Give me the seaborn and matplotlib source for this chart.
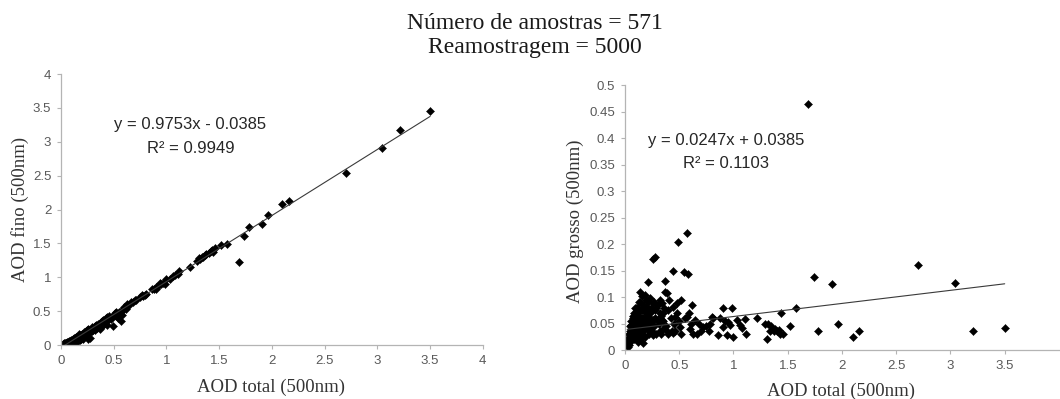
import matplotlib
matplotlib.use("Agg")
import matplotlib.pyplot as plt
from matplotlib.ticker import MultipleLocator, FixedLocator, FuncFormatter
import seaborn as sns
import pandas as pd
import numpy as np

# AOD at 500 nm for each sample: total, coarse mode and fine mode
aod_total = [
    1.69, 0.568, 0.49, 0.276, 0.255, 0.44, 0.54, 0.58, 0.21, 0.37,
    1.74, 1.91, 2.70, 3.04, 3.50, 3.21, 2.10, 2.16, 1.965, 1.78,
    1.575, 1.52, 1.44, 1.43, 1.40, 1.37, 1.34, 1.31, 1.29, 1.32,
    1.22, 1.11, 1.06, 1.00, 0.985, 0.905, 1.03, 0.97, 0.94, 0.86,
    0.905, 0.80, 0.81, 0.78, 0.77, 0.715, 0.66, 0.63, 0.62, 0.61,
    0.645, 0.57, 0.59, 0.52, 0.51, 0.52, 0.475, 0.445, 0.41, 0.46,
    0.43, 0.46, 0.385, 0.37, 0.385, 0.355, 0.34, 0.32, 0.34, 0.29,
    0.26, 0.23, 0.18, 0.14, 0.155, 0.20, 0.23, 0.26, 0.23, 0.29,
    0.17, 0.03, 0.02, 1.35, 1.38, 1.42, 1.46, 1.08, 1.12, 0.95,
    0.88, 0.92, 0.75, 0.68, 0.70, 0.55, 0.60, 0.50, 0.48, 0.45,
    0.42, 0.40, 0.38, 0.36, 0.33, 0.31, 0.30, 0.28, 0.27, 0.25,
    0.24, 0.22, 0.21, 0.20, 0.19, 0.18, 0.17, 0.16, 0.16, 0.15,
    0.14, 0.13, 0.13, 0.12, 0.12, 0.11, 0.11, 0.10, 0.10, 0.09,
    0.09, 0.08, 0.08, 0.07, 0.07, 0.06, 0.06, 0.05, 0.05, 0.04,
    0.04, 0.035, 0.15, 0.14, 0.12, 0.18, 0.22, 0.26, 0.33, 0.35,
    0.40, 0.44, 0.19, 0.24, 0.27, 0.13, 0.10, 0.09, 0.075, 0.06,
    0.03, 0.045, 0.05, 0.06, 0.07, 0.07, 0.08, 0.08, 0.08, 0.09,
    0.09, 0.10, 0.10, 0.11, 0.11, 0.11, 0.12, 0.12, 0.13, 0.13,
    0.14, 0.14, 0.15, 0.15, 0.16, 0.16, 0.17, 0.17, 0.18, 0.19,
    0.19, 0.20, 0.21, 0.22, 0.23, 0.25, 0.25, 0.28, 0.30, 0.32,
    0.32, 0.35, 0.035, 0.04, 0.025, 0.05, 0.06,
]
aod_coarse = [
    0.465, 0.220, 0.203, 0.176, 0.172, 0.149, 0.147, 0.144, 0.128, 0.130,
    0.137, 0.125, 0.160, 0.127, 0.042, 0.035, 0.024, 0.035, 0.049, 0.035,
    0.079, 0.046, 0.069, 0.030, 0.035, 0.035, 0.035, 0.020, 0.050, 0.050,
    0.061, 0.059, 0.048, 0.025, 0.080, 0.080, 0.057, 0.047, 0.028, 0.028,
    0.044, 0.063, 0.060, 0.050, 0.035, 0.044, 0.031, 0.031, 0.085, 0.050,
    0.057, 0.063, 0.069, 0.094, 0.044, 0.030, 0.088, 0.081, 0.094, 0.063,
    0.035, 0.035, 0.035, 0.110, 0.107, 0.069, 0.057, 0.094, 0.088, 0.079,
    0.088, 0.098, 0.104, 0.110, 0.101, 0.082, 0.069, 0.057, 0.044, 0.031,
    0.013, 0.006, 0.009, 0.045, 0.040, 0.038, 0.030, 0.042, 0.030, 0.052,
    0.060, 0.055, 0.045, 0.050, 0.035, 0.060, 0.040, 0.055, 0.070, 0.050,
    0.060, 0.075, 0.045, 0.080, 0.065, 0.050, 0.085, 0.060, 0.045, 0.075,
    0.035, 0.055, 0.090, 0.040, 0.070, 0.050, 0.085, 0.060, 0.030, 0.075,
    0.045, 0.065, 0.025, 0.080, 0.050, 0.035, 0.065, 0.055, 0.025, 0.045,
    0.070, 0.035, 0.060, 0.050, 0.025, 0.040, 0.020, 0.030, 0.015, 0.020,
    0.010, 0.025, 0.040, 0.020, 0.015, 0.025, 0.030, 0.028, 0.030, 0.040,
    0.030, 0.032, 0.095, 0.080, 0.090, 0.090, 0.080, 0.058, 0.065, 0.055,
    0.020, 0.035, 0.045, 0.035, 0.060, 0.040, 0.070, 0.050, 0.020, 0.030,
    0.080, 0.070, 0.040, 0.050, 0.080, 0.020, 0.065, 0.035, 0.045, 0.075,
    0.060, 0.090, 0.055, 0.030, 0.045, 0.075, 0.060, 0.035, 0.075, 0.045,
    0.060, 0.065, 0.050, 0.075, 0.060, 0.050, 0.035, 0.075, 0.055, 0.035,
    0.070, 0.055, 0.030, 0.030, 0.015, 0.025, 0.048,
]
aod_fine = [
    1.225, 0.348, 0.287, 0.100, 0.083, 0.291, 0.393, 0.436, 0.082, 0.240,
    1.603, 1.785, 2.540, 2.913, 3.458, 3.175, 2.076, 2.125, 1.916, 1.745,
    1.496, 1.474, 1.371, 1.400, 1.365, 1.335, 1.305, 1.290, 1.240, 1.270,
    1.159, 1.051, 1.012, 0.975, 0.905, 0.825, 0.973, 0.923, 0.912, 0.832,
    0.861, 0.737, 0.750, 0.730, 0.735, 0.671, 0.629, 0.599, 0.535, 0.560,
    0.588, 0.507, 0.521, 0.426, 0.466, 0.490, 0.387, 0.364, 0.316, 0.397,
    0.395, 0.425, 0.350, 0.260, 0.278, 0.286, 0.283, 0.226, 0.252, 0.211,
    0.172, 0.132, 0.076, 0.030, 0.054, 0.118, 0.161, 0.203, 0.186, 0.259,
    0.157, 0.024, 0.011, 1.305, 1.340, 1.382, 1.430, 1.038, 1.090, 0.898,
    0.820, 0.865, 0.705, 0.630, 0.665, 0.490, 0.560, 0.445, 0.410, 0.400,
    0.360, 0.325, 0.335, 0.280, 0.265, 0.260, 0.215, 0.220, 0.225, 0.175,
    0.205, 0.165, 0.120, 0.160, 0.120, 0.130, 0.085, 0.100, 0.130, 0.075,
    0.095, 0.065, 0.105, 0.040, 0.070, 0.075, 0.045, 0.045, 0.075, 0.045,
    0.020, 0.045, 0.020, 0.020, 0.045, 0.020, 0.040, 0.020, 0.035, 0.020,
    0.030, 0.010, 0.110, 0.120, 0.105, 0.155, 0.190, 0.232, 0.300, 0.310,
    0.370, 0.408, 0.095, 0.160, 0.180, 0.040, 0.020, 0.032, 0.010, 0.005,
    0.010, 0.010, 0.005, 0.025, 0.010, 0.030, 0.010, 0.030, 0.060, 0.060,
    0.010, 0.030, 0.060, 0.060, 0.030, 0.090, 0.055, 0.085, 0.085, 0.055,
    0.080, 0.050, 0.095, 0.120, 0.115, 0.085, 0.110, 0.135, 0.105, 0.145,
    0.130, 0.135, 0.160, 0.145, 0.170, 0.200, 0.215, 0.205, 0.245, 0.285,
    0.250, 0.295, 0.005, 0.010, 0.010, 0.025, 0.012,
]

# Linear trend lines (slope, intercept, R²)
fine_fit = (0.9753, -0.0385, 0.9949)
coarse_fit = (0.0247, 0.0385, 0.1103)

n_samples = 571
n_resamples = 5000

df = pd.DataFrame({"total": aod_total, "coarse": aod_coarse, "fine": aod_fine})

sns.set_theme(style="white")
plt.rcParams["font.family"] = ["Liberation Sans", "DejaVu Sans"]

fig = plt.figure(figsize=(10.6, 3.99), dpi=100)
ax1 = fig.add_axes([0.0575, 0.1353, 0.398, 0.679])
ax2 = fig.add_axes([0.5896, 0.1228, 0.4094, 0.664])

spine_c = "#b4b4b4"
tick_c = "#595959"
serif = ["Liberation Serif", "DejaVu Serif"]


def style_axes(ax, xmax, ymax, ystep, xticks):
    ax.set_xlim(0, xmax)
    ax.set_ylim(0, ymax)
    ax.xaxis.set_major_locator(FixedLocator(xticks))
    ax.yaxis.set_major_locator(MultipleLocator(ystep))
    fmt = FuncFormatter(lambda v, p: f"{v:g}")
    ax.xaxis.set_major_formatter(fmt)
    ax.yaxis.set_major_formatter(fmt)
    for s in ("top", "right"):
        ax.spines[s].set_visible(False)
    for s in ("left", "bottom"):
        ax.spines[s].set_color(spine_c)
        ax.spines[s].set_linewidth(0.9)
    ax.tick_params(axis="both", which="major", direction="out", length=3,
                   width=0.8, color=spine_c, labelcolor=tick_c, labelsize=9.5,
                   pad=4, bottom=True, left=True)
    ax.set_xlabel("")
    ax.set_ylabel("")
    ax.grid(False)


sns.scatterplot(data=df, x="total", y="fine", ax=ax1, marker="D", s=17,
                color="black", edgecolor="black", linewidth=0.3, legend=False)
sns.scatterplot(data=df, x="total", y="coarse", ax=ax2, marker="D", s=17,
                color="black", edgecolor="black", linewidth=0.3, legend=False)

xline = np.array([min(aod_total), max(aod_total)])
ax1.plot(xline, fine_fit[0] * xline + fine_fit[1], color="#3a3a3a", lw=0.8, zorder=1)
ax2.plot(xline, coarse_fit[0] * xline + coarse_fit[1], color="#3a3a3a", lw=0.8, zorder=1)

style_axes(ax1, 4, 4, 0.5, np.arange(0, 4.01, 0.5))
style_axes(ax2, 4, 0.5, 0.05, np.arange(0, 3.51, 0.5))
for ax in (ax1, ax2):
    ax.patch.set_alpha(0)

# Titles and axis labels
fig.text(0.505, 0.940, f"Número de amostras = {n_samples}", ha="center", va="center",
         family=serif, fontsize=17, color="#1a1a1a")
fig.text(0.505, 0.880, f"Reamostragem = {n_resamples}", ha="center", va="center",
         family=serif, fontsize=17, color="#1a1a1a")

fig.text(0.019, 0.474, "AOD fino (500nm)", rotation=90, ha="center", va="center",
         family=serif, fontsize=13.5, color="#333333")
fig.text(0.256, 0.028, "AOD total (500nm)", ha="center", va="center",
         family=serif, fontsize=13.5, color="#333333")
fig.text(0.5425, 0.446, "AOD grosso (500nm)", rotation=90, ha="center", va="center",
         family=serif, fontsize=13.5, color="#333333")
fig.text(0.793, 0.018, "AOD total (500nm)", ha="center", va="center",
         family=serif, fontsize=13.5, color="#333333")

# Trend line equations
def eq_text(slope, intercept):
    sign = "-" if intercept < 0 else "+"
    return f"y = {slope:.4f}x {sign} {abs(intercept):.4f}"

fig.text(0.179, 0.687, eq_text(fine_fit[0], fine_fit[1]), ha="center", va="center",
         fontsize=12, color="#262626")
fig.text(0.180, 0.629, f"R² = {fine_fit[2]:.4f}", ha="center", va="center",
         fontsize=12, color="#262626")
fig.text(0.685, 0.649, eq_text(coarse_fit[0], coarse_fit[1]), ha="center", va="center",
         fontsize=12, color="#262626")
fig.text(0.685, 0.591, f"R² = {coarse_fit[2]:.4f}", ha="center", va="center",
         fontsize=12, color="#262626")

fig.savefig("out.png", dpi=100, facecolor="white")
